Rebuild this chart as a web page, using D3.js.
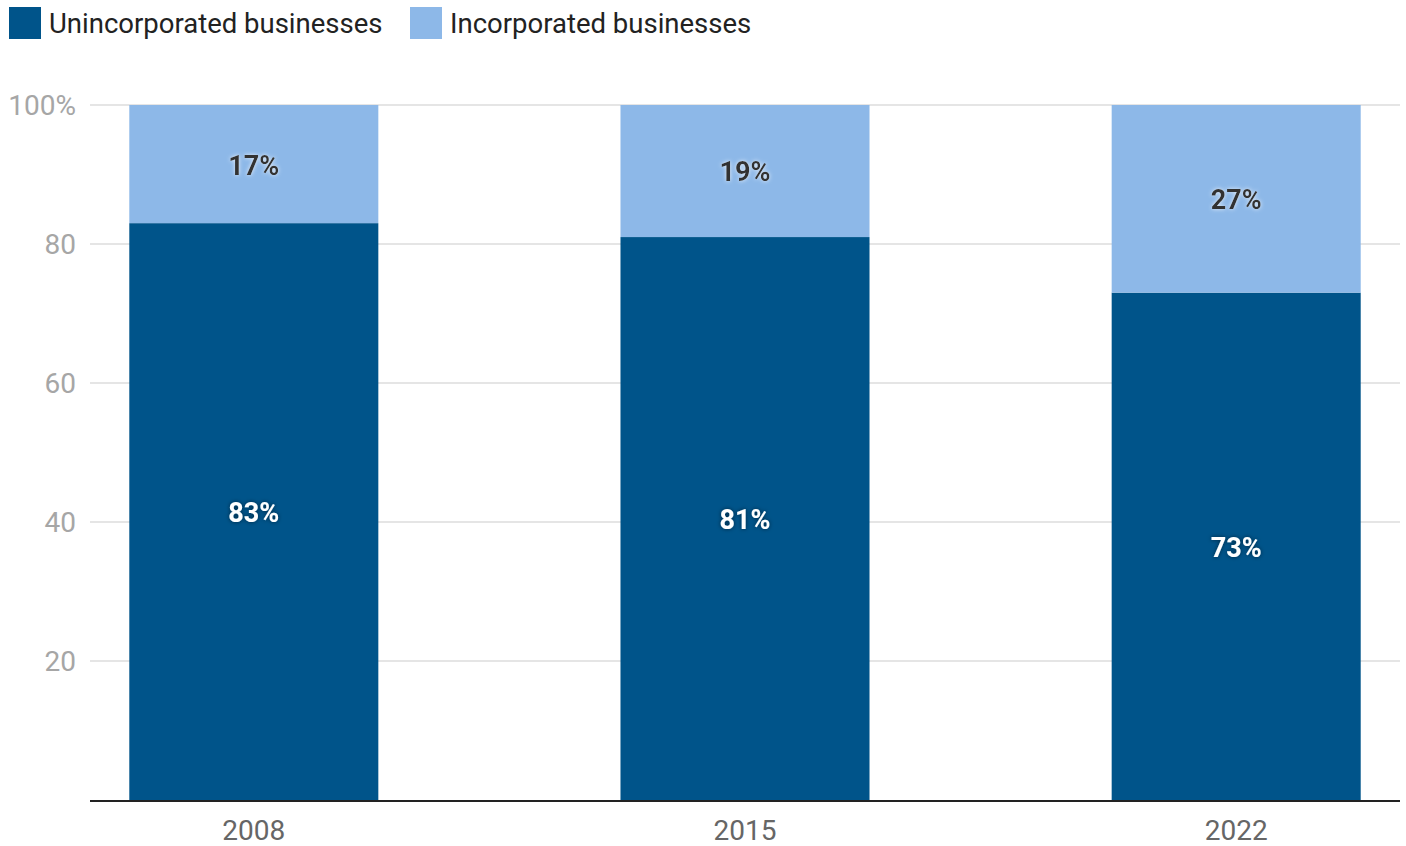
<!DOCTYPE html>
<html>
<head>
<meta charset="utf-8">
<script src="https://cdn.jsdelivr.net/npm/d3@7"></script>
<style>
body{margin:0;background:#fff;}
svg{display:block;font-family:Roboto, "Noto Sans", sans-serif;}
</style>
</head>
<body>
<svg id="chart" width="1406" height="846">
<defs>
<filter id="glowDark" x="-20%" y="-40%" width="140%" height="180%">
<feGaussianBlur in="SourceAlpha" stdDeviation="2" result="b"/>
<feFlood flood-color="#000" flood-opacity="0.55"/>
<feComposite in2="b" operator="in" result="s"/>
<feMerge><feMergeNode in="s"/><feMergeNode in="SourceGraphic"/></feMerge>
</filter>
<filter id="glowLight" x="-20%" y="-40%" width="140%" height="180%">
<feGaussianBlur in="SourceAlpha" stdDeviation="2" result="b"/>
<feFlood flood-color="#fff" flood-opacity="0.8"/>
<feComposite in2="b" operator="in" result="s"/>
<feMerge><feMergeNode in="s"/><feMergeNode in="SourceGraphic"/></feMerge>
</filter>
</defs>
</svg>
<script>
const years = ["2008", "2015", "2022"];
const unincorporated = [83, 81, 73];
const incorporated = [17, 19, 27];
const seriesNames = ["Unincorporated businesses", "Incorporated businesses"];
const seriesColors = ["#00548a", "#8db8e8"];
const yTicks = [20, 40, 60, 80, 100];

(function () {
const svg = d3.select("#chart");
const mLeft = 90, mRight = 1400, mTop = 105, mBottom = 800;

const x = d3.scaleBand().domain(years).range([mLeft, mRight]).paddingInner(0.493).paddingOuter(0.08);
const y = d3.scaleLinear().domain([0, 100]).range([mBottom, mTop]);

// gridlines
svg.append("g").selectAll("line").data(yTicks).join("line")
  .attr("x1", mLeft).attr("x2", mRight)
  .attr("y1", d => y(d)).attr("y2", d => y(d))
  .attr("stroke", "#e5e5e5").attr("stroke-width", 2);

// y labels
svg.append("g").selectAll("text").data(yTicks).join("text")
  .attr("x", 76).attr("y", d => y(d))
  .attr("dy", "0.35em").attr("text-anchor", "end")
  .attr("font-size", 28).attr("fill", "#a6a6a6")
  .text(d => d === 100 ? "100%" : d);

const rows = years.map((yr, i) => ({year: yr, u: unincorporated[i], inc: incorporated[i]}));
const stack = d3.stack().keys(["u", "inc"])(rows);

stack.forEach((layer, li) => {
  svg.append("g").selectAll("rect").data(layer).join("rect")
    .attr("x", d => x(d.data.year))
    .attr("width", x.bandwidth())
    .attr("y", d => y(d[1]))
    .attr("height", d => y(d[0]) - y(d[1]))
    .attr("fill", seriesColors[li]);
});

stack.forEach((layer, li) => {
  svg.append("g").selectAll("text").data(layer).join("text")
    .attr("x", d => x(d.data.year) + x.bandwidth() / 2)
    .attr("y", d => (y(d[0]) + y(d[1])) / 2 + 1)
    .attr("dy", "0.35em").attr("text-anchor", "middle")
    .attr("font-size", 27).attr("font-weight", "bold")
    .attr("fill", li === 0 ? "#ffffff" : "#333333")
    .attr("filter", li === 0 ? "url(#glowDark)" : "url(#glowLight)")
    .text(d => (d[1] - d[0]) + "%");
});

// baseline
svg.append("line").attr("x1", mLeft).attr("x2", mRight)
  .attr("y1", y(0) + 1).attr("y2", y(0) + 1)
  .attr("stroke", "#222").attr("stroke-width", 2);

// x axis labels
const xAxis = d3.axisBottom(x).tickSize(0).tickPadding(20);
const gx = svg.append("g").attr("transform", `translate(0,${y(0)})`).call(xAxis);
gx.select(".domain").remove();
gx.selectAll("text").attr("font-size", 28).attr("fill", "#666").attr("font-family", "Roboto, sans-serif");

// legend
const legendX = [9, 410];
const lg = svg.append("g");
seriesNames.forEach((name, i) => {
  lg.append("rect").attr("x", legendX[i]).attr("y", 7).attr("width", 32).attr("height", 32).attr("fill", seriesColors[i]);
  lg.append("text").attr("x", legendX[i] + 40).attr("y", 23).attr("dy", "0.35em")
    .attr("font-size", 27.5).attr("fill", "#222").text(name);
});
})();
</script>
</body>
</html>
